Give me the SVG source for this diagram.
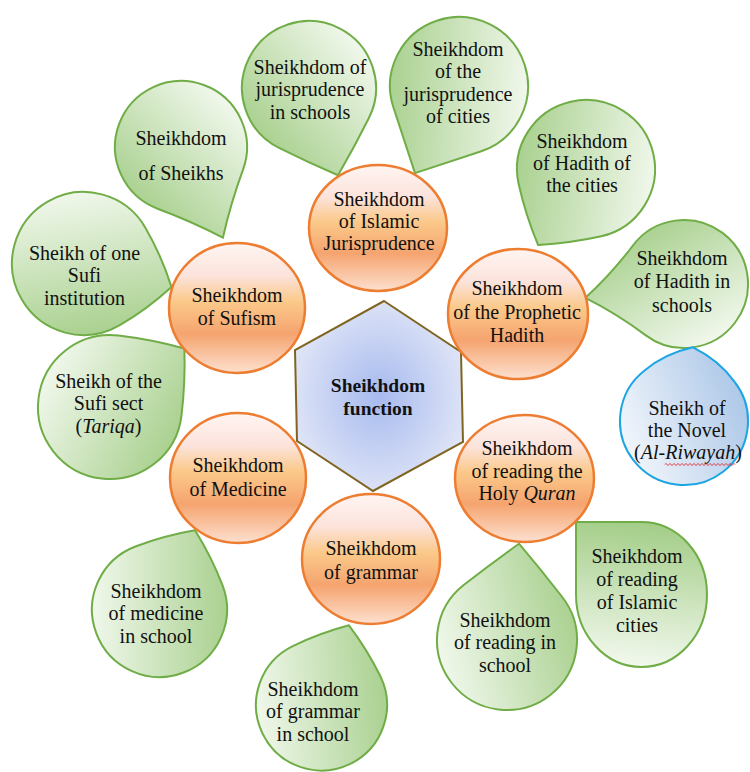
<svg xmlns="http://www.w3.org/2000/svg" width="750" height="772" viewBox="0 0 750 772">
<defs>
<style>
.t{font-family:"Liberation Serif","Times New Roman",serif;font-size:20px;fill:#111;text-anchor:middle}
.b{font-weight:bold;font-size:19.5px}
.i{font-style:italic}
.leaf{fill:url(#gg);stroke:#70ad47;stroke-width:2}
.orb{fill:url(#og);stroke:#ed7d31;stroke-width:2.5}
</style>
<linearGradient id="gg" x1="0.75" y1="1" x2="0.25" y2="0">
<stop offset="0" stop-color="#a3cd87"/><stop offset="1" stop-color="#f3f9ef"/>
</linearGradient>
<linearGradient id="gv" x1="0.5" y1="0" x2="0.4" y2="1">
<stop offset="0" stop-color="#a3cd87"/><stop offset="1" stop-color="#f3f9ef"/>
</linearGradient>
<linearGradient id="gb" x1="0.8" y1="1" x2="0.2" y2="0">
<stop offset="0" stop-color="#a6c3e6"/><stop offset="1" stop-color="#f6f9fd"/>
</linearGradient>
<linearGradient id="og" x1="0" y1="0" x2="0" y2="1">
<stop offset="0" stop-color="#fff5f2"/><stop offset="0.25" stop-color="#fce3dc"/><stop offset="0.45" stop-color="#fbc98a"/><stop offset="0.7" stop-color="#f5a46f"/><stop offset="1" stop-color="#fde0cf"/>
</linearGradient>
<radialGradient id="hg" cx="0.5" cy="0.5" r="0.55">
<stop offset="0" stop-color="#a7baef"/><stop offset="1" stop-color="#e1e6f7"/>
</radialGradient>
</defs>
<rect width="750" height="772" fill="#fff"/>
<g id="connectors"/>
<g id="n-sheikhs">
<path class="leaf" transform="translate(181 147) rotate(65.2)" d="M46.67,-46.67 Q71.64,-21.70 99.87,0 Q71.64,21.70 46.67,46.67 A66,66 0 1 1 46.67,-46.67 Z"/>
<text class="t" x="181" y="145">Sheikhdom</text>
<text class="t" x="181" y="180">of Sheikhs</text>
</g>
<g id="n-jurisprudence-schools">
<path class="leaf" transform="translate(309 88) rotate(71.6)" d="M47.38,-47.38 Q70.36,-24.40 91.91,0 Q70.36,24.40 47.38,47.38 A67,67 0 1 1 47.38,-47.38 Z"/>
<text class="t" x="310" y="74">Sheikhdom of</text>
<text class="t" x="310" y="96">jurisprudence</text>
<text class="t" x="310" y="119">in schools</text>
</g>
<g id="n-jurisprudence-cities">
<path class="leaf" transform="translate(459 86) rotate(116.8)" d="M48.79,-48.79 Q73.19,-24.40 97.58,0 Q73.19,24.40 48.79,48.79 A69,69 0 1 1 48.79,-48.79 Z"/>
<text class="t" x="458" y="56">Sheikhdom</text>
<text class="t" x="458" y="78">of the</text>
<text class="t" x="458" y="101">jurisprudence</text>
<text class="t" x="458" y="123">of cities</text>
</g>
<g id="n-hadith-cities">
<path class="leaf" transform="translate(586 169) rotate(122.3)" d="M48.79,-48.79 Q71.23,-26.35 89.77,0 Q71.23,26.35 48.79,48.79 A69,69 0 1 1 48.79,-48.79 Z"/>
<text class="t" x="582" y="148">Sheikhdom</text>
<text class="t" x="582" y="170">of Hadith of</text>
<text class="t" x="582" y="192">the cities</text>
</g>
<g id="n-hadith-schools">
<path class="leaf" transform="translate(684 284) rotate(172)" d="M45.25,-45.25 Q70.14,-20.36 99.55,0 Q70.14,20.36 45.25,45.25 A64,64 0 1 1 45.25,-45.25 Z"/>
<text class="t" x="682" y="265">Sheikhdom</text>
<text class="t" x="682" y="288">of Hadith in</text>
<text class="t" x="682" y="312">schools</text>
</g>
<g id="n-novel">
<path transform="translate(684 421) rotate(-83)" fill="url(#gb)" stroke="#1ba5e3" stroke-width="2" d="M45.25,-45.25 Q64.50,-27.50 74.21,0 Q64.50,27.50 45.25,45.25 A64,64 0 1 1 45.25,-45.25 Z"/>
<text class="t" x="687" y="415">Sheikh of</text>
<text class="t" x="687" y="437">the Novel</text>
<text class="t" x="688" y="459">(<tspan class="i">Al-Riwayah</tspan>)</text>
<path fill="none" stroke="#e3262b" stroke-width="1" d="M665,464.5 q1,-2 2,0 t2,0 t2,0 t2,0 t2,0 t2,0 t2,0 t2,0 t2,0 t2,0 t2,0 t2,0 t2,0 t2,0 t2,0 t2,0 t2,0 t2,0 t2,0 t2,0 t2,0 t2,0 t2,0 t2,0 t2,0 t2,0 t2,0 t2,0 t2,0 t2,0 t2,0 t2,0 t2,0 t2,0 t2,0"/>
</g>
<g id="n-reading-cities">
<path fill="url(#gv)" stroke="#70ad47" stroke-width="2" d="M576,594.5 L576,522 L641.5,522 A65.5,72.5 0 1 1 576,594.5 Z"/>
<text class="t" x="637" y="563">Sheikhdom</text>
<text class="t" x="637" y="586">of reading</text>
<text class="t" x="637" y="609">of Islamic</text>
<text class="t" x="637" y="632">cities</text>
</g>
<g id="n-reading-school">
<path class="leaf" transform="translate(507 640) rotate(-82.9)" d="M49.50,-49.50 Q73.75,-25.24 97.02,0 Q73.75,25.24 49.50,49.50 A70,70 0 1 1 49.50,-49.50 Z"/>
<text class="t" x="505" y="627">Sheikhdom</text>
<text class="t" x="505" y="649">of reading in</text>
<text class="t" x="505" y="672">school</text>
</g>
<g id="n-grammar-school">
<path class="leaf" transform="translate(321.5 705) rotate(-71)" d="M46.32,-46.32 Q67.39,-25.24 84.30,0 Q67.39,25.24 46.32,46.32 A65.5,65.5 0 1 1 46.32,-46.32 Z"/>
<text class="t" x="313" y="696">Sheikhdom</text>
<text class="t" x="313" y="718">of grammar</text>
<text class="t" x="313" y="741">in school</text>
</g>
<g id="n-medicine-school">
<path class="leaf" transform="translate(159.5 609.5) rotate(-65.9)" d="M47.73,-47.73 Q69.45,-26.01 86.87,0 Q69.45,26.01 47.73,47.73 A67.5,67.5 0 1 1 47.73,-47.73 Z"/>
<text class="t" x="156" y="598">Sheikhdom</text>
<text class="t" x="156" y="620">of medicine</text>
<text class="t" x="156" y="643">in school</text>
</g>
<g id="n-sufi-sect">
<path class="leaf" transform="translate(110 407) rotate(-38.2)" d="M50.91,-50.91 Q74.58,-27.24 94.69,0 Q74.58,27.24 50.91,50.91 A72,72 0 1 1 50.91,-50.91 Z"/>
<text class="t" x="108.5" y="388">Sheikh of the</text>
<text class="t" x="108.5" y="410">Sufi sect</text>
<text class="t" x="108.5" y="433">(<tspan class="i">Tariqa</tspan>)</text>
</g>
<g id="n-sufi-institution">
<path class="leaf" transform="translate(83.5 263.5) rotate(14.9)" d="M50.56,-50.56 Q73.31,-27.81 91.0,0 Q73.31,27.81 50.56,50.56 A71.5,71.5 0 1 1 50.56,-50.56 Z"/>
<text class="t" x="84.5" y="260">Sheikh of one</text>
<text class="t" x="84.5" y="282">Sufi</text>
<text class="t" x="84.5" y="305">institution</text>
</g>
<g id="n-function">
<polygon points="384,301 461,352 463,442 373,491 297,441 295,350" fill="url(#hg)" stroke="#7f6520" stroke-width="2"/>
<text class="t b" x="378" y="392">Sheikhdom</text>
<text class="t b" x="378" y="415">function</text>
</g>
<g id="n-islamic-jurisprudence">
<ellipse class="orb" cx="378" cy="228" rx="69" ry="63"/>
<text class="t" x="379" y="206">Sheikhdom</text>
<text class="t" x="379" y="228">of Islamic</text>
<text class="t" x="379" y="250">Jurisprudence</text>
</g>
<g id="n-prophetic-hadith">
<ellipse class="orb" cx="518" cy="314" rx="70" ry="65"/>
<text class="t" x="517" y="295">Sheikhdom</text>
<text class="t" x="517" y="319">of the Prophetic</text>
<text class="t" x="517" y="342">Hadith</text>
</g>
<g id="n-sufism">
<ellipse class="orb" cx="237" cy="308" rx="68" ry="65"/>
<text class="t" x="237" y="302">Sheikhdom</text>
<text class="t" x="237" y="325">of Sufism</text>
</g>
<g id="n-medicine">
<ellipse class="orb" cx="238" cy="478" rx="68" ry="65"/>
<text class="t" x="238" y="472">Sheikhdom</text>
<text class="t" x="238" y="496">of Medicine</text>
</g>
<g id="n-grammar">
<ellipse class="orb" cx="371" cy="559" rx="69" ry="65"/>
<text class="t" x="371" y="555">Sheikhdom</text>
<text class="t" x="371" y="579">of grammar</text>
</g>
<g id="n-reading-quran">
<ellipse class="orb" cx="524.5" cy="478.5" rx="69.5" ry="63.5"/>
<text class="t" x="527" y="455">Sheikhdom</text>
<text class="t" x="527" y="478">of reading the</text>
<text class="t" x="527" y="500">Holy <tspan class="i">Quran</tspan></text>
</g>
</svg>
